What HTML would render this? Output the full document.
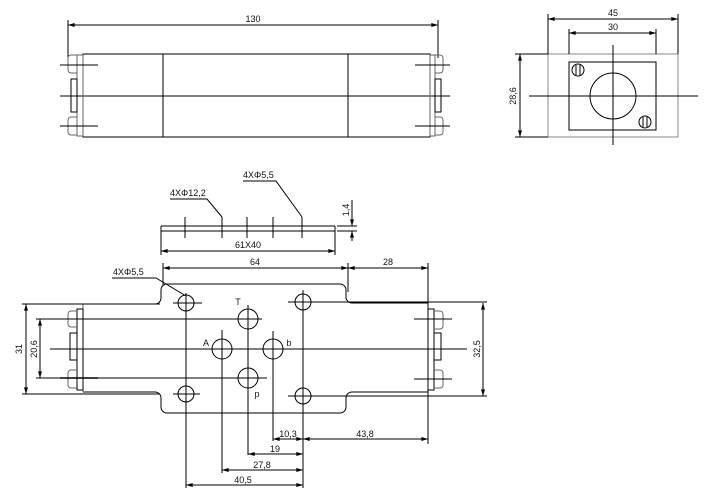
<!DOCTYPE html>
<html><head><meta charset="utf-8"><style>
html,body{margin:0;padding:0;background:#fff;}
svg{display:block;}
text{font-family:"Liberation Sans",sans-serif;font-size:9px;fill:#111;}
</style></head><body>
<svg width="710" height="495" viewBox="0 0 710 495" xmlns="http://www.w3.org/2000/svg">
<defs>
<marker id="a" viewBox="0 0 10 6" refX="10" refY="3" markerWidth="8" markerHeight="4" orient="auto-start-reverse"><path d="M0,0L10,3L0,6z" fill="#000"/></marker>
</defs>
<g stroke="#000" stroke-width="1" fill="none">
<!-- TOP VIEW -->
<line x1="68" y1="25" x2="438" y2="25" marker-start="url(#a)" marker-end="url(#a)"/>
<line x1="68" y1="20" x2="68" y2="58"/>
<line x1="438" y1="20" x2="438" y2="58"/>
<rect x="83" y="54" width="347" height="83"/>
<line x1="163" y1="54" x2="163" y2="137"/>
<line x1="348" y1="54" x2="348" y2="137"/>
<line x1="60" y1="96" x2="450" y2="96"/>
<rect x="77" y="55" width="6" height="81" stroke="#666"/>
<path d="M77,55h-6a3,3 0 0 0 -3,3v12a3,3 0 0 0 3,3h6" stroke="#666"/>
<rect x="71" y="79" width="6" height="33"/>
<path d="M77,117h-6a3,3 0 0 0 -3,3v12a3,3 0 0 0 3,3h6" stroke="#666"/>
<line x1="60" y1="65" x2="98" y2="65"/>
<line x1="60" y1="126" x2="98" y2="126"/>
<rect x="430" y="55" width="5" height="81" stroke="#666"/>
<path d="M435,55h5a3,3 0 0 1 3,3v12a3,3 0 0 1 -3,3h-5" stroke="#666"/>
<rect x="435" y="79" width="6" height="33"/>
<path d="M435,117h5a3,3 0 0 1 3,3v12a3,3 0 0 1 -3,3h-5" stroke="#666"/>
<line x1="415" y1="65" x2="450" y2="65"/>
<line x1="415" y1="126" x2="450" y2="126"/>

<!-- RIGHT VIEW -->
<rect x="548" y="54" width="130" height="83" stroke="#888"/>
<rect x="569" y="62" width="87" height="68"/>
<circle cx="613" cy="96" r="23"/>
<circle cx="578" cy="70" r="6"/><line x1="576" y1="65" x2="576" y2="75"/><line x1="580" y1="65" x2="580" y2="75"/>
<circle cx="645" cy="122" r="6"/><line x1="643" y1="117" x2="643" y2="127"/><line x1="647" y1="117" x2="647" y2="127"/>
<line x1="613" y1="45" x2="613" y2="145"/>
<line x1="529" y1="96" x2="698" y2="96"/>
<line x1="548" y1="19" x2="678" y2="19" marker-start="url(#a)" marker-end="url(#a)"/>
<line x1="548" y1="14" x2="548" y2="54"/><line x1="678" y1="14" x2="678" y2="54"/>
<line x1="569" y1="33" x2="656" y2="33" marker-start="url(#a)" marker-end="url(#a)"/>
<line x1="569" y1="29" x2="569" y2="54"/><line x1="656" y1="29" x2="656" y2="54"/>
<line x1="520" y1="54" x2="520" y2="137" marker-start="url(#a)" marker-end="url(#a)"/>
<line x1="515" y1="54" x2="548" y2="54"/><line x1="515" y1="137" x2="548" y2="137"/>

<!-- GASKET -->
<line x1="161" y1="226" x2="335" y2="226"/>
<line x1="161" y1="231" x2="335" y2="231"/>
<line x1="161" y1="226" x2="161" y2="255"/>
<line x1="335" y1="226" x2="335" y2="255"/>
<line x1="161" y1="251" x2="335" y2="251" marker-start="url(#a)" marker-end="url(#a)"/>
<line x1="185" y1="217" x2="185" y2="238"/>
<line x1="222" y1="217" x2="222" y2="238"/>
<line x1="247" y1="217" x2="247" y2="238"/>
<line x1="273" y1="217" x2="273" y2="238"/>
<line x1="302" y1="217" x2="302" y2="238"/>
<line x1="337" y1="226" x2="357" y2="226"/>
<line x1="337" y1="231" x2="357" y2="231"/>
<line x1="352" y1="200" x2="352" y2="226" marker-end="url(#a)"/>
<line x1="352" y1="241" x2="352" y2="231" marker-end="url(#a)"/>
<polyline points="170,199 207,199 222,217"/>
<polyline points="243,181 276,181 302,217"/>

<!-- BOTTOM VIEW -->
<path d="M83,304H155a6,6 0 0 0 6,-6v-8a6,6 0 0 1 6,-6H340a6,6 0 0 1 6,6v7a6,6 0 0 0 6,6H428"/>
<path d="M83,392H155a6,6 0 0 1 6,6v9a6,6 0 0 0 6,6H340a6,6 0 0 0 6,-6v-9a6,6 0 0 1 6,-6H428"/>
<line x1="83" y1="304" x2="83" y2="392" stroke="#666"/>
<line x1="428" y1="303" x2="428" y2="392" stroke="#666"/>
<rect x="77" y="309" width="6" height="81"/>
<path d="M77,311h-6a3,3 0 0 0 -3,3v10a3,3 0 0 0 3,3h6" stroke="#666"/>
<rect x="70" y="333" width="7" height="27"/>
<path d="M77,370h-6a3,3 0 0 0 -3,3v12a3,3 0 0 0 3,3h6" stroke="#666"/>
<rect x="428" y="309" width="6" height="81"/>
<path d="M434,311h6a3,3 0 0 1 3,3v12a3,3 0 0 1 -3,3h-6" stroke="#666"/>
<rect x="434" y="333" width="7" height="27"/>
<path d="M434,370h6a3,3 0 0 1 3,3v12a3,3 0 0 1 -3,3h-6" stroke="#666"/>
<line x1="414" y1="319" x2="452" y2="319"/>
<line x1="414" y1="379" x2="452" y2="379"/>

<circle cx="186" cy="303" r="8"/><circle cx="186" cy="394" r="8"/>
<circle cx="303" cy="302" r="8"/><circle cx="303" cy="396" r="8"/>
<circle cx="248" cy="319" r="10"/><circle cx="222" cy="349" r="10"/>
<circle cx="273" cy="349" r="10"/><circle cx="248" cy="378" r="10"/>

<line x1="50" y1="349" x2="467" y2="349"/>
<line x1="173" y1="303" x2="202" y2="303"/>
<line x1="173" y1="394" x2="200" y2="394"/>
<line x1="288" y1="302" x2="487" y2="302"/>
<line x1="288" y1="396" x2="487" y2="396"/>
<line x1="22" y1="304" x2="160" y2="304"/>
<line x1="22" y1="394" x2="160" y2="394"/>
<line x1="36" y1="319" x2="262" y2="319"/>
<line x1="36" y1="378" x2="267" y2="378"/>
<line x1="60" y1="378" x2="98" y2="378" stroke-width="1.5"/>

<line x1="186" y1="293" x2="186" y2="488"/>
<line x1="303" y1="290" x2="303" y2="488"/>
<line x1="248" y1="305" x2="248" y2="455"/>
<line x1="222" y1="330" x2="222" y2="473"/>
<line x1="273" y1="331" x2="273" y2="441"/>
<line x1="428" y1="263" x2="428" y2="444"/>
<line x1="163" y1="263" x2="163" y2="286"/>
<line x1="348" y1="263" x2="348" y2="292"/>

<line x1="483" y1="303" x2="483" y2="396" marker-start="url(#a)" marker-end="url(#a)"/>
<line x1="26" y1="304" x2="26" y2="394" marker-start="url(#a)" marker-end="url(#a)"/>
<line x1="40" y1="319" x2="40" y2="378" marker-start="url(#a)" marker-end="url(#a)"/>
<line x1="163" y1="268" x2="348" y2="268" marker-start="url(#a)" marker-end="url(#a)"/>
<line x1="348" y1="268" x2="428" y2="268" marker-start="url(#a)" marker-end="url(#a)"/>
<line x1="273" y1="439" x2="303" y2="439" marker-start="url(#a)" marker-end="url(#a)"/>
<line x1="303" y1="439" x2="428" y2="439" marker-start="url(#a)" marker-end="url(#a)"/>
<line x1="248" y1="454" x2="303" y2="454" marker-start="url(#a)" marker-end="url(#a)"/>
<line x1="222" y1="470" x2="303" y2="470" marker-start="url(#a)" marker-end="url(#a)"/>
<line x1="186" y1="485" x2="303" y2="485" marker-start="url(#a)" marker-end="url(#a)"/>
<polyline points="112,278 156,278 186,296"/>
</g>
<g>
<text x="253" y="22" text-anchor="middle">130</text>
<text x="613" y="16" text-anchor="middle">45</text>
<text x="613" y="30" text-anchor="middle">30</text>
<text transform="translate(516,96) rotate(-90)" text-anchor="middle">28,6</text>
<text x="170" y="196">4XΦ12,2</text>
<text x="243" y="178">4XΦ5,5</text>
<text x="248" y="248" text-anchor="middle">61X40</text>
<text transform="translate(349,210) rotate(-90)" text-anchor="middle">1,4</text>
<text x="113" y="275">4XΦ5,5</text>
<text x="255" y="265" text-anchor="middle">64</text>
<text x="388" y="265" text-anchor="middle">28</text>
<text transform="translate(22,349) rotate(-90)" text-anchor="middle">31</text>
<text transform="translate(37,349) rotate(-90)" text-anchor="middle">20,6</text>
<text transform="translate(480,349) rotate(-90)" text-anchor="middle">32,5</text>
<text x="238" y="305" text-anchor="middle">T</text>
<text x="206" y="346" text-anchor="middle">A</text>
<text x="289" y="346" text-anchor="middle">b</text>
<text x="257" y="397" text-anchor="middle">p</text>
<text x="288" y="437" text-anchor="middle">10,3</text>
<text x="365" y="437" text-anchor="middle">43,8</text>
<text x="275" y="452" text-anchor="middle">19</text>
<text x="262" y="468" text-anchor="middle">27,8</text>
<text x="243" y="483" text-anchor="middle">40,5</text>
</g>
</svg>
</body></html>
